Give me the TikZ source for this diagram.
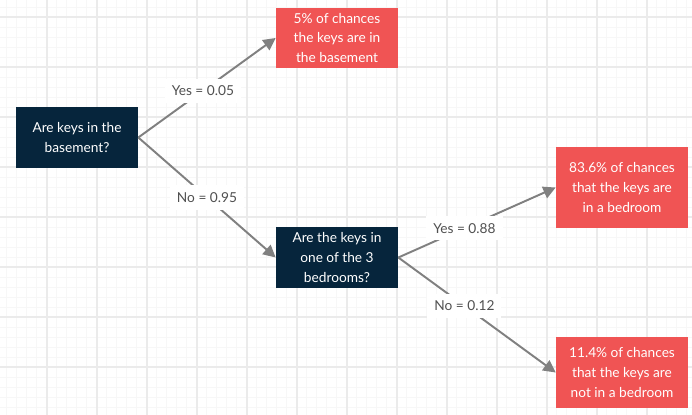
\documentclass[tikz,border=0pt]{standalone}
\usepackage{fontspec}
\setmainfont{Lato}
\usepackage{tikz}
\usetikzlibrary{arrows.meta}
\definecolor{navy}{RGB}{6,37,60}
\definecolor{salmon}{RGB}{240,84,84}
\definecolor{edgegray}{RGB}{128,128,128}
\definecolor{labelgray}{RGB}{80,80,80}
\definecolor{minorline}{RGB}{247,247,247}
\definecolor{majorline}{RGB}{235,235,235}

\begin{document}
\begin{tikzpicture}[
        x=0.02cm, y=-0.02cm,
        font=\fontsize{7.8}{11.3}\selectfont,
        question/.style={fill=navy, text=white, align=center, inner sep=0pt},
        answer/.style={fill=salmon, text=white, align=center, inner sep=0pt},
        prob/.style={fill=white, text=labelgray, inner sep=4pt},
        branch/.style={draw=edgegray, line width=1.1pt, -{Triangle[length=7pt,width=7pt]}},
      ]
        \useasboundingbox[fill=white] (0,0) rectangle (692,415);

        % background grid
        \foreach \i in {0,...,68}
          \draw[minorline, line width=0.45pt] ({6.7+10*\i},0) -- ++(0,415);
        \foreach \j in {0,...,40}
          \draw[minorline, line width=0.45pt] (0,{7.3+10*\j}) -- ++(692,0);
        \foreach \i in {0,...,12}
          \draw[majorline, line width=1pt] ({46.7+50*\i},0) -- ++(0,415);
        \foreach \j in {0,...,7}
          \draw[majorline, line width=1pt] (0,{17.3+50*\j}) -- ++(692,0);

        % decision nodes
        \node[question, minimum width=2.44cm, minimum height=1.22cm] (q1) at (77,137.5)
          {Are keys in the\\basement?};
        \node[question, minimum width=2.44cm, minimum height=1.22cm] (q2) at (337,257.5)
          {Are the keys in\\one of the 3\\bedrooms?};

        % outcomes
        \node[answer, minimum width=2.44cm, minimum height=1.22cm] (r1) at (337,38)
          {5\% of chances\\the keys are in\\the basement};
        \node[answer, minimum width=2.64cm, minimum height=1.62cm] (r2) at (622,187.5)
          {83.6\% of chances\\that the keys are\\in a bedroom};
        \node[answer, minimum width=2.64cm, minimum height=1.42cm] (r3) at (622,372.5)
          {11.4\% of chances\\that the keys are\\not in a bedroom};

        \draw[branch] (q1.east) -- node[prob, pos=.47] {Yes = 0.05} (r1.west);
        \draw[branch] (q1.east) -- node[prob, pos=.5] {No = 0.95} (q2.west);
        \draw[branch] (q2.east) -- node[prob, pos=.42] {Yes = 0.88} (r2.west);
        \draw[branch] (q2.east) -- node[prob, pos=.42] {No = 0.12} (r3.west);
    \end{tikzpicture}
\end{document}
